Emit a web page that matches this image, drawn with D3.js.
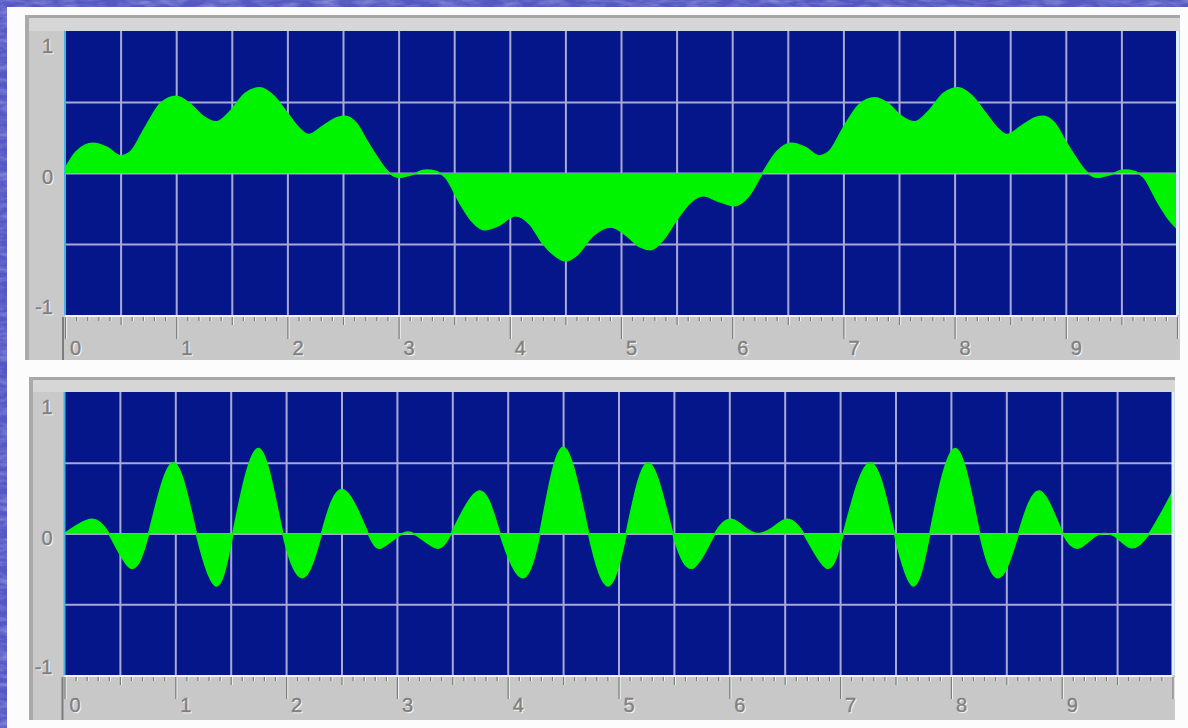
<!DOCTYPE html>
<html>
<head>
<meta charset="utf-8">
<script src="https://cdn.jsdelivr.net/npm/d3@7"></script>
<style>
  html, body { margin: 0; padding: 0; background: #5659c6; }
  svg { display: block; }
</style>
</head>
<body>
<svg id="chart" width="1188" height="728"></svg>
<script>
// Upper trace: sample times (s) and amplitudes
const upperTime = [
  0.00, 0.10, 0.25, 0.38, 0.50, 0.59, 0.72, 0.86, 1.00, 1.12, 1.24, 1.36, 1.48, 1.62, 1.75, 1.88,
  2.00, 2.10, 2.19, 2.32, 2.45, 2.52, 2.62, 2.72, 2.80, 2.88, 3.00, 3.12, 3.25, 3.34, 3.42, 3.55,
  3.66, 3.77, 3.90, 4.05, 4.18, 4.30, 4.42, 4.50, 4.60, 4.75, 4.91, 5.05, 5.17, 5.27, 5.38, 5.50,
  5.62, 5.74, 5.88, 6.02, 6.14, 6.28, 6.40, 6.53, 6.66, 6.78, 6.87, 7.00, 7.14, 7.28, 7.40, 7.52,
  7.64, 7.76, 7.90, 8.03, 8.16, 8.28, 8.38, 8.47, 8.60, 8.73, 8.80, 8.90, 9.00, 9.08, 9.16, 9.28,
  9.40, 9.53, 9.62, 9.70, 9.83, 9.94, 10.00
];
const upperValue = [
  0.03, 0.15, 0.21, 0.18, 0.12, 0.15, 0.32, 0.49, 0.54, 0.49, 0.40, 0.36, 0.43, 0.56, 0.60, 0.54,
  0.42, 0.32, 0.27, 0.33, 0.39, 0.40, 0.35, 0.22, 0.12, 0.03, -0.03, -0.01, 0.02, 0.01, -0.03, -0.21,
  -0.34, -0.40, -0.37, -0.30, -0.36, -0.50, -0.59, -0.62, -0.58, -0.44, -0.38, -0.44, -0.52, -0.54, -0.47, -0.33,
  -0.21, -0.16, -0.20, -0.23, -0.17, 0.01, 0.15, 0.21, 0.18, 0.12, 0.15, 0.32, 0.48, 0.53, 0.49, 0.40,
  0.36, 0.43, 0.56, 0.60, 0.54, 0.42, 0.32, 0.27, 0.33, 0.39, 0.40, 0.35, 0.22, 0.12, 0.03, -0.03,
  -0.01, 0.02, 0.01, -0.03, -0.21, -0.34, -0.39
];

// Lower trace: sample times (s) and amplitudes
const lowerTime = [
  0.00, 0.12, 0.25, 0.40, 0.59, 0.76, 0.98, 1.19, 1.37, 1.52, 1.75, 1.97, 2.16, 2.32, 2.51, 2.74,
  2.86, 2.99, 3.10, 3.21, 3.35, 3.49, 3.74, 3.93, 4.12, 4.29, 4.50, 4.73, 4.91, 5.07, 5.27, 5.49,
  5.68, 5.87, 6.02, 6.16, 6.27, 6.39, 6.52, 6.67, 6.87, 7.03, 7.27, 7.49, 7.66, 7.81, 8.04, 8.26,
  8.44, 8.61, 8.80, 9.01, 9.16, 9.28, 9.39, 9.50, 9.63, 9.79, 10.00
];
const lowerValue = [
  0.00, 0.06, 0.10, 0.00, -0.24, 0.00, 0.50, 0.00, -0.37, 0.00, 0.60, 0.00, -0.31, 0.00, 0.31, 0.00,
  -0.10, -0.03, 0.01, -0.03, -0.10, 0.00, 0.30, 0.00, -0.31, 0.00, 0.61, 0.00, -0.37, 0.00, 0.50, 0.00,
  -0.24, 0.00, 0.10, 0.03, 0.00, 0.04, 0.10, 0.00, -0.24, 0.00, 0.50, 0.00, -0.37, 0.00, 0.60, 0.00,
  -0.31, 0.00, 0.30, 0.00, -0.10, -0.03, 0.00, -0.03, -0.10, 0.00, 0.29
];

// Axis ticks and labels
const xTickValues = [0, 1, 2, 3, 4, 5, 6, 7, 8, 9, 10];
const xTickLabels = ["0", "1", "2", "3", "4", "5", "6", "7", "8", "9", ""];
const yTickValues = [1, 0, -1];
const yTickLabels = ["1", "0", "-1"];

const svg = d3.select("#chart");
const W = 1188, H = 728;

// Slide background: blue with a soft mottled texture
const defs = svg.append("defs");
const tex = defs.append("filter").attr("id", "tex").attr("x", 0).attr("y", 0).attr("width", 1).attr("height", 1);
tex.append("feTurbulence").attr("type", "fractalNoise").attr("baseFrequency", "0.05 0.18")
  .attr("numOctaves", 3).attr("seed", 7).attr("result", "n");
tex.append("feColorMatrix").attr("in", "n").attr("type", "matrix")
  .attr("values", "0 0 0 0 0.72  0 0 0 0 0.74  0 0 0 0 1  1.3 0 0 0 -0.5");
svg.append("rect").attr("width", W).attr("height", H).attr("fill", "#5558c4");
svg.append("rect").attr("width", W).attr("height", H).attr("filter", "url(#tex)").attr("opacity", 0.55);

// White picture card
svg.append("rect").attr("x", 7).attr("y", 7).attr("width", W - 7).attr("height", H - 7).attr("fill", "#fcfcfc");

const panels = [
  { id: "up", frame: [25, 15, 1155, 345], plot: [65, 31, 1177, 315], rulerBottom: 360, labelDrop: 40,
    times: upperTime, values: upperValue, curve: d3.curveMonotoneX },
  { id: "lo", frame: [29, 377, 1146, 343], plot: [64.5, 392, 1172.5, 675], rulerBottom: 720, labelDrop: 37,
    times: lowerTime, values: lowerValue, curve: d3.curveNatural }
];

const FONT = "'Liberation Sans', Arial, sans-serif";
const LABEL_SIZE = 20;

panels.forEach(drawPanel);

function drawPanel(p) {
  const [fx, fy, fw, fh] = p.frame;
  const [px0, py0, px1, py1] = p.plot;
  const g = svg.append("g");

  // Gray instrument frame with a bevelled top/left edge
  g.append("rect").attr("x", fx).attr("y", fy).attr("width", fw).attr("height", fh).attr("fill", "#c9c9c9");
  g.append("rect").attr("x", fx).attr("y", fy).attr("width", fw).attr("height", py0 - fy).attr("fill", "#d6d6d6");
  g.append("rect").attr("x", fx).attr("y", fy).attr("width", fw).attr("height", 3).attr("fill", "#a6a6a6");
  g.append("rect").attr("x", fx).attr("y", fy).attr("width", 4).attr("height", fh).attr("fill", "#aaaaaa");

  const x = d3.scaleLinear().domain([0, 10]).range([px0, px1]);
  const y = d3.scaleLinear().domain([-1, 1]).range([py1, py0]);

  // Plot background
  g.append("rect").attr("x", px0).attr("y", py0).attr("width", px1 - px0).attr("height", py1 - py0)
    .attr("fill", "#05168a");

  // Grid lines every half unit
  const grid = g.append("g");
  grid.append("g").attr("transform", `translate(0,${py1})`)
    .call(d3.axisBottom(x).tickValues(d3.range(0.5, 10, 0.5)).tickSize(-(py1 - py0)).tickFormat(""));
  grid.append("g").attr("transform", `translate(${px0},0)`)
    .call(d3.axisLeft(y).tickValues([-0.5, 0, 0.5]).tickSize(-(px1 - px0)).tickFormat(""));
  grid.selectAll(".domain").remove();
  grid.selectAll("line").attr("stroke", "#a8a8d6").attr("stroke-width", 2);

  // Waveform, filled to the zero line
  const clipId = "clip-" + p.id;
  defs.append("clipPath").attr("id", clipId)
    .append("rect").attr("x", px0).attr("y", py0).attr("width", px1 - px0).attr("height", py1 - py0);
  const pts = p.times.map((t, i) => [t, p.values[i]]);
  const area = d3.area().x(d => x(d[0])).y0(y(0)).y1(d => y(d[1])).curve(p.curve);
  const line = d3.line().x(d => x(d[0])).y(d => y(d[1])).curve(p.curve);
  const wave = g.append("g").attr("clip-path", `url(#${clipId})`);
  wave.append("path").datum(pts).attr("d", area).attr("fill", "#00f400");
  wave.append("path").datum(pts).attr("d", line).attr("fill", "none")
    .attr("stroke", "#00f400").attr("stroke-width", 1.6);

  // Plot side edges
  g.append("rect").attr("x", px0 - 1).attr("y", py0).attr("width", 2).attr("height", py1 - py0).attr("fill", "#3fb6de");
  g.append("rect").attr("x", px1 - 1).attr("y", py0).attr("width", 3).attr("height", py1 - py0).attr("fill", "#dcf4ff");

  // Ruler strip
  const rb = p.rulerBottom;
  g.append("rect").attr("x", px0).attr("y", py1).attr("width", px1 - px0).attr("height", rb - py1).attr("fill", "#c8c8c8");
  g.append("rect").attr("x", px0).attr("y", py1).attr("width", px1 - px0).attr("height", 2).attr("fill", "#f2f2f2");
  g.append("rect").attr("x", px0 - 3).attr("y", py1 + 2).attr("width", 2).attr("height", rb - py1 - 2).attr("fill", "#7c7c7c");

  const isHalf = v => Math.abs(v * 2 - Math.round(v * 2)) < 1e-6;
  const minor = x.ticks(100).filter(v => !isHalf(v));
  const mid = d3.range(0.5, 10, 1);

  function tickRow(values, size, color, dx) {
    const a = g.append("g").attr("transform", `translate(${dx},${py1 + 2})`)
      .call(d3.axisBottom(x).tickValues(values).tickSize(size).tickSizeOuter(0).tickFormat(""));
    a.select(".domain").remove();
    a.selectAll("line").attr("stroke", color).attr("stroke-width", 1.2);
  }
  [["#f4f4f4", 1], ["#7c7c7c", 0]].forEach(([c, dx]) => {
    tickRow(minor, 4, c, dx);
    tickRow(mid, 8, c, dx);
    tickRow(xTickValues, 22, c, dx);
  });

  // X tick labels, engraved look
  [["#f6f6f6", 1], ["#808080", 0]].forEach(([c, d]) => {
    g.append("g").selectAll("text").data(xTickValues).join("text")
      .attr("x", v => x(v) + 5 + d).attr("y", py1 + p.labelDrop + d)
      .attr("font-family", FONT).attr("font-size", LABEL_SIZE).attr("fill", c)
      .attr("stroke", c).attr("stroke-width", 0.4)
      .text((v, i) => xTickLabels[i]);
  });

  // Y labels
  const yBase = v => v === 1 ? y(v) + 22 : v === 0 ? y(v) + 11 : y(v) - 1;
  [["#f6f6f6", 1], ["#808080", 0]].forEach(([c, d]) => {
    g.append("g").selectAll("text").data(yTickValues).join("text")
      .attr("x", px0 - 12 + d).attr("y", v => yBase(v) + d)
      .attr("text-anchor", "end")
      .attr("font-family", FONT).attr("font-size", LABEL_SIZE).attr("fill", c)
      .attr("stroke", c).attr("stroke-width", 0.4)
      .text((v, i) => yTickLabels[i]);
  });
}
</script>
</body>
</html>
